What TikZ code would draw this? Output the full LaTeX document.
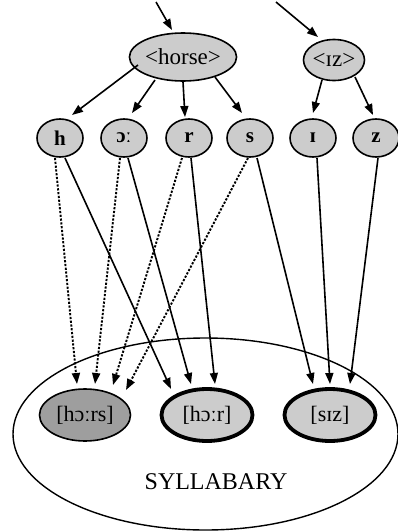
\documentclass[tikz,border=0pt]{standalone}
\usepackage{fontspec}
\setmainfont{Liberation Serif}
\usetikzlibrary{shapes.geometric,arrows.meta}

\tikzset{
  lex/.style={ellipse, draw, line width=1.6pt, fill=black!20, inner sep=0pt,
              font=\fontsize{23}{26}\selectfont},
  seg/.style={ellipse, draw, line width=1.6pt, fill=black!20, inner sep=0pt,
              minimum width=46pt, minimum height=38pt,
              font=\bfseries\fontsize{21}{24}\selectfont},
  syl/.style={ellipse, draw, fill=black!20, inner sep=0pt,
              minimum width=91pt, minimum height=52pt,
              font=\fontsize{22}{25}\selectfont},
  thin/.style={line width=1.6pt},
  heavy/.style={line width=3.8pt},
  arr/.style={line width=1.6pt, -{Triangle[length=11pt,width=8pt]}},
  dotarr/.style={line width=1.9pt, dash pattern=on 2.2pt off 1.6pt,
                 -{Triangle[length=11pt,width=8pt]}},
}

\begin{document}
\begin{tikzpicture}[x=1pt, y=-1pt]
  \useasboundingbox (0,0) rectangle (398,531);

  % syllabary store
  \node[ellipse, draw, line width=1.4pt, minimum width=385pt, minimum height=192pt,
        inner sep=0pt] (store) at (205.5,434) {};
  \node[font=\fontsize{24}{28}\selectfont] (label) at (216,482) {SYLLABARY};

  % stored syllables
  \node[syl, thin, fill=black!38] (hrs) at (85,415)  {[hɔːrs]};
  \node[syl, heavy] (hr)  at (207,415) {[hɔːr]};
  \node[syl, heavy] (siz) at (330,415) {[sɪz]};

  % lexical items
  \node[lex, minimum width=88pt, minimum height=48pt] (horse) at (183,57) {<horse>};
  \node[lex, minimum width=61pt, minimum height=41pt] (iz) at (334,60) {<ɪz>};

  % segments
  \node[seg] (h) at (60,138)  {h};
  \node[seg] (o) at (124,138) {ɔː};
  \node[seg] (r) at (189,138) {r};
  \node[seg] (s) at (250,138) {s};
  \node[seg] (i) at (313,138) {ɪ};
  \node[seg] (z) at (376,138) {z};

  % incoming arrows
  \coordinate (inHorse) at (156,2);
  \coordinate (inIz) at (276,2);
  \draw[arr] (inHorse) -- ([shift={(-11,-27)}]horse.center);
  \draw[arr] (inIz) -- ([shift={(-16,-23)}]iz.center);

  % lexical item to segments
  \draw[arr] ([shift={(-45,8)}]horse.center)  -- ([shift={(12,-23)}]h.center);
  \draw[arr] ([shift={(-28,23)}]horse.center) -- ([shift={(8,-25)}]o.center);
  \draw[arr] ([shift={(0,25)}]horse.center)   -- ([shift={(-4,-21)}]r.center);
  \draw[arr] ([shift={(32,20)}]horse.center)  -- ([shift={(-8,-25)}]s.center);
  \draw[arr] ([shift={(-12,20)}]iz.center)    -- ([shift={(0,-25)}]i.center);
  \draw[arr] ([shift={(21,17)}]iz.center)     -- ([shift={(-3,-23)}]z.center);

  % segments to [hɔːrs]
  \draw[dotarr] ([shift={(-5,20)}]h.center) -- ([shift={(-8,-31)}]hrs.center);
  \draw[dotarr] ([shift={(-4,20)}]o.center) -- ([shift={(10,-31)}]hrs.center);
  \draw[dotarr] ([shift={(-7,20)}]r.center) -- ([shift={(28,-30)}]hrs.center);
  \draw[dotarr] ([shift={(-2,20)}]s.center) -- ([shift={(41,-25)}]hrs.center);

  % segments to [hɔːr]
  \draw[arr] ([shift={(5,20)}]h.center) -- ([shift={(-36,-26)}]hr.center);
  \draw[arr] ([shift={(4,20)}]o.center) -- ([shift={(-16,-31)}]hr.center);
  \draw[arr] ([shift={(2,20)}]r.center) -- ([shift={(8,-31)}]hr.center);

  % segments to [sɪz]
  \draw[arr] ([shift={(7,20)}]s.center) -- ([shift={(-17,-31)}]siz.center);
  \draw[arr] ([shift={(4,20)}]i.center) -- ([shift={(0,-31)}]siz.center);
  \draw[arr] ([shift={(2,20)}]z.center) -- ([shift={(20,-31)}]siz.center);
\end{tikzpicture}
\end{document}
